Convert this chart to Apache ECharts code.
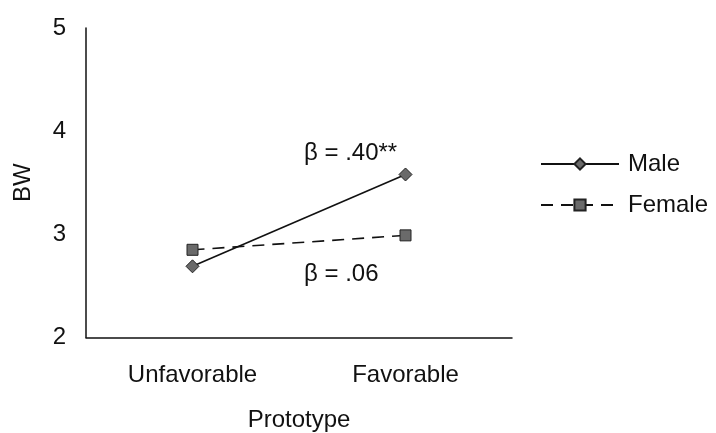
<!DOCTYPE html>
<html><head><meta charset="utf-8">
<script src="https://cdn.jsdelivr.net/npm/echarts@6/dist/echarts.min.js"></script>
<style>html,body{margin:0;padding:0;background:#fff}#c{width:716px;height:433px}</style>
</head><body><div id="c"></div>
<script>
var categories = ['Unfavorable', 'Favorable'];
var maleValues = [2.69, 3.58];
var femaleValues = [2.85, 2.99];
var yTicks = [2, 3, 4, 5];
var annotations = ['β = .40**', 'β = .06'];

var chart = echarts.init(document.getElementById('c'));
var F = 'Liberation Sans, Arial, sans-serif';
var FS = 24;
chart.setOption({
  animation: false,
  backgroundColor: '#fff',
  grid: { left: 86, top: 28, right: 204, bottom: 95.5, containLabel: false, outerBoundsMode: 'none' },
  legend: {
    orient: 'vertical', left: 535, top: 147, itemGap: 17,
    itemWidth: 78, itemHeight: 14,
    textStyle: { fontFamily: F, fontSize: FS, color: '#111', padding: [0,0,0,4] },
    data: ['Male', 'Female']
  },
  xAxis: {
    type: 'category', data: categories, boundaryGap: true,
    name: 'Prototype', nameLocation: 'middle', nameGap: 71,
    nameTextStyle: { fontFamily: F, fontSize: FS, color: '#111' },
    axisLine: { lineStyle: { color: '#111', width: 1.5 } },
    axisTick: { show: false },
    axisLabel: { fontFamily: F, fontSize: FS, color: '#111', margin: 26 }
  },
  yAxis: {
    type: 'value', min: yTicks[0], max: yTicks[yTicks.length - 1], interval: 1,
    name: 'BW', nameLocation: 'middle', nameGap: 51, nameRotate: 90,
    nameTextStyle: { fontFamily: F, fontSize: FS, color: '#111' },
    axisLine: { show: true, lineStyle: { color: '#111', width: 1.5 } },
    axisTick: { show: false },
    splitLine: { show: false },
    axisLabel: { fontFamily: F, fontSize: FS, color: '#111', margin: 20 }
  },
  series: [
    {
      name: 'Male', type: 'line', data: maleValues,
      symbol: 'diamond', symbolSize: 13,
      itemStyle: { color: '#6a6a6a', borderColor: '#222', borderWidth: 1 },
      lineStyle: { color: '#111', width: 1.6, type: 'solid' }
    },
    {
      name: 'Female', type: 'line', data: femaleValues,
      symbol: 'rect', symbolSize: 11,
      itemStyle: { color: '#6a6a6a', borderColor: '#222', borderWidth: 1 },
      lineStyle: { color: '#111', width: 1.6, type: [12, 8] }
    }
  ],
  graphic: [
    { type: 'text', left: 304, top: 141, style: { text: annotations[0], font: FS + 'px ' + F, fill: '#111' } },
    { type: 'text', left: 304, top: 262, style: { text: annotations[1], font: FS + 'px ' + F, fill: '#111' } }
  ]
});
</script></body></html>
